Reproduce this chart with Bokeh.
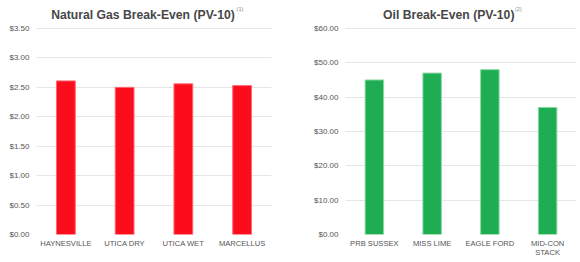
from bokeh.plotting import figure
from bokeh.layouts import row
from bokeh.models import ColumnDataSource, FixedTicker, NumeralTickFormatter, Label, Range1d
from bokeh.embed import file_html
from bokeh.resources import INLINE

# ---- data ----
gas_plays = ["HAYNESVILLE", "UTICA DRY", "UTICA WET", "MARCELLUS"]
gas_breakeven = [2.61, 2.50, 2.56, 2.53]
gas_ticks = [0, 0.5, 1.0, 1.5, 2.0, 2.5, 3.0, 3.5]

oil_plays = ["PRB SUSSEX", "MISS LIME", "EAGLE FORD", "MID-CON\nSTACK"]
oil_breakeven = [45, 47, 48, 37]
oil_ticks = [0, 10, 20, 30, 40, 50, 60]

gas_title = "Natural Gas Break-Even (PV-10)"
oil_title = "Oil Break-Even (PV-10)"

FONT = "Liberation Sans"


def make_chart(cats, vals, ticks, title, note, fill, edge, frame_left, frame_right,
               y_end, title_x, note_x, title_y, note_y):
    p = figure(x_range=cats, y_range=Range1d(0, y_end), width=290, height=262,
               output_backend="svg", toolbar_location=None,
               min_border_left=frame_left, min_border_right=frame_right,
               min_border_top=0, min_border_bottom=28)
    src = ColumnDataSource(dict(cat=cats, val=vals))
    p.vbar(x="cat", top="val", width=0.32, source=src, fill_color=fill,
           line_color=edge, line_width=1)
    p.outline_line_color = None
    p.background_fill_color = "white"
    p.border_fill_color = "white"
    p.xgrid.grid_line_color = None
    p.ygrid.grid_line_color = "#e6e6e6"
    p.ygrid.grid_line_width = 1
    p.yaxis.ticker = FixedTicker(ticks=ticks)
    p.yaxis.formatter = NumeralTickFormatter(format="$0.00")
    for ax in (p.xaxis[0], p.yaxis[0]):
        ax.axis_line_color = None
        ax.major_tick_line_color = None
        ax.minor_tick_line_color = None
        ax.major_tick_out = 0
        ax.major_tick_in = 0
        ax.axis_label_standoff = 0
        ax.major_label_text_font = FONT
        ax.major_label_text_color = "#555555"
        ax.major_label_text_font_size = "8px"
    p.yaxis.major_label_standoff = 7
    p.xaxis.major_label_standoff = 4
    p.xaxis.major_label_text_font_size = "7.6px"
    p.xaxis.major_label_text_line_height = 1.1
    p.add_layout(Label(x=title_x, y=title_y, text=title, text_font=FONT,
                       text_font_style="bold", text_font_size="12.2px",
                       text_color="#474747", text_align="left",
                       text_baseline="alphabetic"))
    p.add_layout(Label(x=note_x, y=note_y, text=note, text_font=FONT,
                       text_font_size="5.5px", text_color="#8a8a8a",
                       text_align="left", text_baseline="alphabetic"))
    return p


p1 = make_chart(gas_plays, gas_breakeven, gas_ticks, gas_title, "(1)",
                "#FC0D1C", "#FF6B74", 36, 19, y_end=3.976,
                title_x=0.25, note_x=3.405, title_y=3.73, note_y=3.84)
p2 = make_chart(oil_plays, oil_breakeven, oil_ticks, oil_title, "(2)",
                "#1FAD53", "#8AD8A4", 55, 4, y_end=68.14,
                title_x=0.65, note_x=2.935, title_y=63.9, note_y=65.8)

layout = row(p1, p2)
open("out.html", "w").write(file_html(layout, INLINE))
